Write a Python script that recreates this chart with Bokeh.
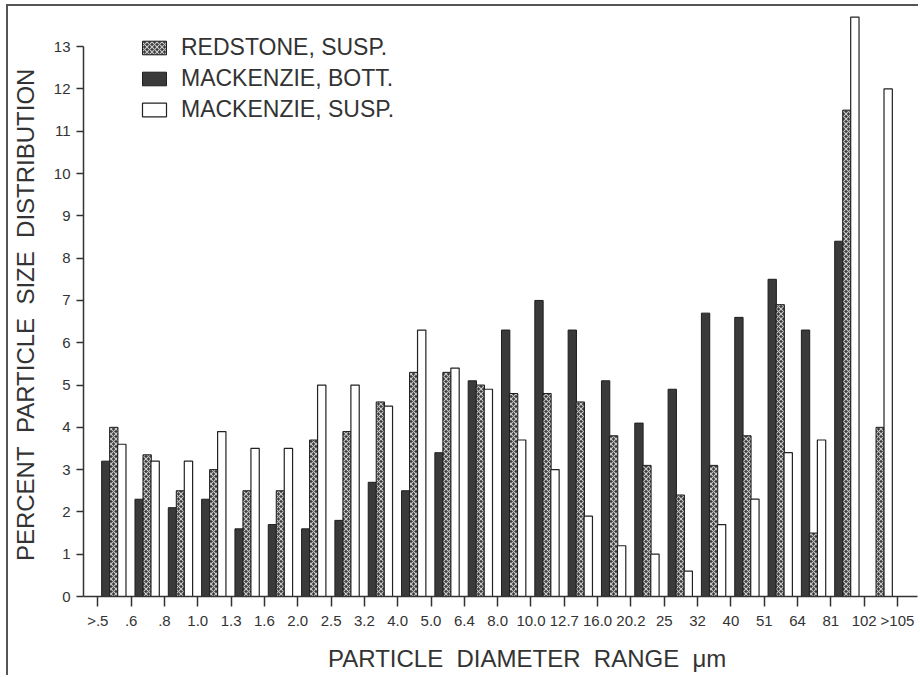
import numpy as np
from bokeh.plotting import figure
from bokeh.models import Range1d, FixedTicker, ColumnDataSource, Legend, LegendItem
from bokeh.embed import file_html
from bokeh.resources import INLINE

# ---- data -------------------------------------------------------------
boundary_labels = [">.5", ".6", ".8", "1.0", "1.3", "1.6", "2.0", "2.5", "3.2",
                   "4.0", "5.0", "6.4", "8.0", "10.0", "12.7", "16.0", "20.2",
                   "25", "32", "40", "51", "64", "81", "102", ">105"]
mackenzie_bott = [3.2, 2.3, 2.1, 2.3, 1.6, 1.7, 1.6, 1.8, 2.7, 2.5, 3.4, 5.1,
                  6.3, 7.0, 6.3, 5.1, 4.1, 4.9, 6.7, 6.6, 7.5, 6.3, 8.4, None]
redstone_susp = [4.0, 3.35, 2.5, 3.0, 2.5, 2.5, 3.7, 3.9, 4.6, 5.3, 5.3, 5.0,
                 4.8, 4.8, 4.6, 3.8, 3.1, 2.4, 3.1, 3.8, 6.9, 1.5, 11.5, 4.0]
mackenzie_susp = [3.6, 3.2, 3.2, 3.9, 3.5, 3.5, 5.0, 5.0, 4.5, 6.3, 5.4, 4.9,
                  3.7, 3.0, 1.9, 1.2, 1.0, 0.6, 1.7, 2.3, 3.4, 3.7, 13.7, 12.0]
y_ticks = list(range(0, 14))

# ---- style ------------------------------------------------------------
FONT = "Liberation Sans"
INK = "#333333"
BAR_W = 0.25
NB = "\u00a0"

def arr(v):
    return np.array([np.nan if x is None else x for x in v], dtype=float)

idx = np.arange(len(mackenzie_bott))
src = ColumnDataSource(dict(
    xb=idx + 0.24, xr=idx + 0.48, xs=idx + 0.72,
    bott=arr(mackenzie_bott), red=arr(redstone_susp), susp=arr(mackenzie_susp),
))

p = figure(width=912, height=671,
           x_range=Range1d(-0.43, 24.6), y_range=Range1d(0, 13.95),
           output_backend="svg", toolbar_location=None,
           min_border_left=74, min_border_right=3,
           min_border_top=0, min_border_bottom=81)
p.styles = {"margin-left": "6px", "margin-top": "4px",
            "border-left": "2px solid #555", "border-top": "2px solid #555"}
p.outline_line_color = None
p.xgrid.visible = False
p.ygrid.visible = False
p.background_fill_color = "white"
p.border_fill_color = "white"

r_bott = p.vbar(x="xb", top="bott", width=BAR_W, source=src,
                fill_color="#3a3a3a", line_color="#1e1e1e", line_width=1)
r_red = p.vbar(x="xr", top="red", width=BAR_W, source=src,
               fill_color="#3c3c3c", line_color="#1e1e1e", line_width=1,
               hatch_pattern="diagonal_cross", hatch_color="#c8c8c8",
               hatch_scale=5, hatch_weight=1.1)
r_susp = p.vbar(x="xs", top="susp", width=BAR_W, source=src,
                fill_color="white", line_color="#222222", line_width=1.2)

# axes
xa = p.xaxis[0]
xa.ticker = FixedTicker(ticks=list(range(len(boundary_labels))))
xa.major_label_overrides = {i: s for i, s in enumerate(boundary_labels)}
xa.axis_label = NB * 8 + "PARTICLE" + NB * 2 + "DIAMETER" + NB * 2 + "RANGE" + NB * 2 + "\u03bcm"
ya = p.yaxis[0]
ya.ticker = FixedTicker(ticks=y_ticks)
ya.bounds = (0, 13)
ya.axis_label = "PERCENT" + NB * 2 + "PARTICLE" + NB * 2 + "SIZE" + NB * 2 + "DISTRIBUTION" + NB * 4

for ax in (xa, ya):
    ax.axis_line_color = INK
    ax.axis_line_width = 1.5
    ax.major_tick_line_color = INK
    ax.major_tick_line_width = 1.5
    ax.major_tick_in = 0
    ax.minor_tick_line_color = None
    ax.major_label_text_font = FONT
    ax.major_label_text_font_size = "15px"
    ax.major_label_text_color = INK
    ax.axis_label_text_font = FONT
    ax.axis_label_text_font_size = "24px"
    ax.axis_label_text_font_style = "normal"
    ax.axis_label_text_color = INK
xa.major_tick_out = 10
xa.major_label_standoff = 5
xa.axis_label_standoff = 13
ya.major_tick_out = 7
ya.major_label_standoff = 6
ya.axis_label_standoff = 12

legend = Legend(items=[
    LegendItem(label="REDSTONE, SUSP.", renderers=[r_red]),
    LegendItem(label="MACKENZIE, BOTT.", renderers=[r_bott]),
    LegendItem(label="MACKENZIE, SUSP.", renderers=[r_susp]),
], location=(56, 473))
legend.border_line_color = None
legend.background_fill_alpha = 0
legend.padding = 0
legend.margin = 0
legend.spacing = 4
legend.glyph_width = 30
legend.glyph_height = 17
legend.label_height = 24
legend.label_standoff = 12
legend.label_text_font = FONT
legend.label_text_font_size = "23px"
legend.label_text_color = INK
p.add_layout(legend, "center")

open("out.html", "w").write(file_html(p, INLINE))
